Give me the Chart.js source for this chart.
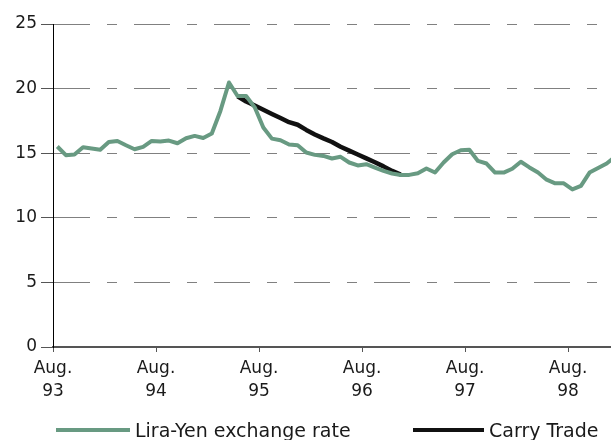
<!DOCTYPE html>
<html>
<head>
<meta charset="utf-8">
<script src="https://cdn.jsdelivr.net/npm/chart.js@4"></script>
<style>
  html, body { margin: 0; padding: 0; background: #fff; }
  #wrap { position: relative; width: 611px; height: 440px; overflow: hidden; }
  #box { position: absolute; left: 0; top: 0; width: 611px; height: 440px; }
  .leg-line { position: absolute; height: 4px; }
  .leg-text { position: absolute; font-family: "DejaVu Sans", sans-serif; font-size: 19px; line-height: 19px; color: #1a1a1a; white-space: nowrap; }
</style>
</head>
<body>
<div id="wrap">
  <div id="box"><canvas id="c"></canvas></div>
  <div class="leg-line" style="left:56px; top:428px; width:74px; background:#689a82;"></div>
  <div class="leg-text" style="left:135px; top:421px;">Lira-Yen exchange rate</div>
  <div class="leg-line" style="left:413px; top:428px; width:71px; background:#111;"></div>
  <div class="leg-text" style="left:489px; top:421px;">Carry Trade</div>
</div>
<script>
// Months counted from Aug. 1993 (index 0 = Aug. 93)
const tickMonths = [0, 12, 24, 36, 48, 60];
const tickLabels = [["Aug.", "93"], ["Aug.", "94"], ["Aug.", "95"], ["Aug.", "96"], ["Aug.", "97"], ["Aug.", "98"]];

// Lira-Yen exchange rate, monthly from Aug. 93
const liraYen = [
  15.52, 14.85, 14.90, 15.46, 15.36, 15.26, 15.87, 15.95, 15.62, 15.31,
  15.49, 15.95, 15.90, 15.98, 15.77, 16.16, 16.34, 16.18, 16.52, 18.27,
  20.47, 19.43, 19.43, 18.55, 16.99, 16.13, 16.00, 15.67, 15.62, 15.05,
  14.87, 14.79, 14.59, 14.72, 14.28, 14.05, 14.15, 13.89, 13.63, 13.43,
  13.32, 13.32, 13.45, 13.82, 13.51, 14.28, 14.92, 15.23, 15.26, 14.40,
  14.20, 13.50, 13.50, 13.80, 14.34, 13.90, 13.50, 12.95, 12.67, 12.67,
  12.20, 12.47, 13.50, 13.85, 14.20, 14.75
];

// Carry Trade path, starts at month index 21
const carryStartMonth = 21;
const carryTrade = [
  19.40, 19.00, 18.69, 18.37, 18.04, 17.72, 17.40, 17.20, 16.80, 16.45,
  16.15, 15.87, 15.50, 15.20, 14.90, 14.60, 14.30, 13.98, 13.63, 13.35
];

const GREEN = '#689a82';
const FONT = '"DejaVu Sans", sans-serif';

new Chart(document.getElementById('c'), {
  type: 'line',
  data: {
    datasets: [
      {
        label: 'Lira-Yen exchange rate',
        data: liraYen.map((v, i) => ({ x: i + 0.5, y: v })),
        borderColor: GREEN,
        borderWidth: 4,
        pointRadius: 0,
        tension: 0,
        borderJoinStyle: 'round',
        borderCapStyle: 'butt'
      },
      {
        label: 'Carry Trade',
        data: carryTrade.map((v, i) => ({ x: carryStartMonth + i + 0.5, y: v })),
        borderColor: '#111',
        borderWidth: 4.5,
        pointRadius: 0,
        tension: 0,
        borderJoinStyle: 'round'
      }
    ]
  },
  options: {
    responsive: true,
    maintainAspectRatio: false,
    animation: false,
    events: [],
    layout: { padding: { top: 24, right: 0, bottom: 0, left: 0 } },
    plugins: { legend: { display: false }, tooltip: { enabled: false } },
    scales: {
      x: {
        type: 'linear',
        min: 0,
        max: 65,
        afterBuildTicks: (s) => { s.ticks = tickMonths.map(v => ({ value: v })); },
        afterFit: (s) => { s.height = 93; },
        ticks: {
          autoSkip: false,
          maxRotation: 0,
          padding: 5,
          color: '#1a1a1a',
          font: { family: FONT, size: 17, lineHeight: 1.35 },
          callback: (v) => tickLabels[tickMonths.indexOf(v)]
        },
        grid: { drawOnChartArea: false, drawTicks: true, tickLength: 5, tickColor: '#555', tickWidth: 1 },
        border: { display: true, color: '#555', width: 2 }
      },
      y: {
        min: 0,
        max: 25,
        afterFit: (s) => { s.width = 53; },
        ticks: {
          stepSize: 5,
          padding: 4,
          color: '#1a1a1a',
          font: { family: FONT, size: 17 }
        },
        grid: { color: '#808080', lineWidth: 1, tickLength: 12, tickColor: '#555', tickWidth: 1, tickBorderDash: [] },
        border: { display: true, color: '#000', width: 1, dash: [36, 17, 10, 17] }
      }
    }
  }
});
</script>
</body>
</html>
